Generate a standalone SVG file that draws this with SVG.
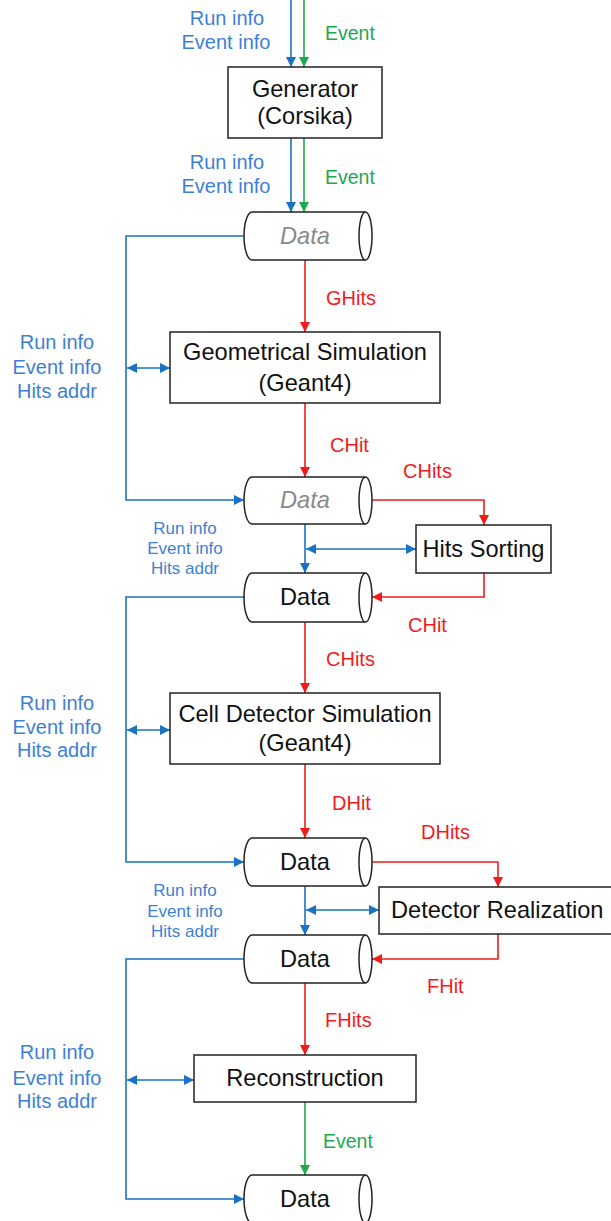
<svg xmlns="http://www.w3.org/2000/svg" width="611" height="1221" viewBox="0 0 611 1221">
<style>
text{font-family:"Liberation Sans",Arial,sans-serif}
.lbl{font-size:23.6px;fill:#111;text-anchor:middle}
.gray{font-style:italic;fill:#8a8a8a}
.bt{font-size:20px;fill:#3d7fd6;text-anchor:middle}
.bs{font-size:17px;fill:#3d7fd6;text-anchor:middle}
.rt{font-size:20px;fill:#f21b1b}
.gt{font-size:19.5px;fill:#1daa4f}
.box{fill:#fff;stroke:#222;stroke-width:1.5}
.cyl{fill:#fff;stroke:#222;stroke-width:1.5}
.b{stroke:#1a72c4;stroke-width:1.6;fill:none}
.r{stroke:#f21b1b;stroke-width:1.6;fill:none}
.g{stroke:#1daa4f;stroke-width:1.6;fill:none}
</style>
<defs>
<marker id="ab" viewBox="0 0 10 10" refX="10" refY="5" markerWidth="11" markerHeight="10" markerUnits="userSpaceOnUse" orient="auto-start-reverse"><path d="M0,0 L10,5 L0,10 z" fill="#1a72c4"/></marker>
<marker id="ar" viewBox="0 0 10 10" refX="10" refY="5" markerWidth="11" markerHeight="10" markerUnits="userSpaceOnUse" orient="auto"><path d="M0,0 L10,5 L0,10 z" fill="#f21b1b"/></marker>
<marker id="ag" viewBox="0 0 10 10" refX="10" refY="5" markerWidth="11" markerHeight="10" markerUnits="userSpaceOnUse" orient="auto"><path d="M0,0 L10,5 L0,10 z" fill="#1daa4f"/></marker>
</defs>

<g id="connectors">
<path class="b" d="M291,0 V67" marker-end="url(#ab)"/>
<path class="g" d="M304,0 V67" marker-end="url(#ag)"/>
<path class="b" d="M291,138 V212" marker-end="url(#ab)"/>
<path class="g" d="M304,138 V212" marker-end="url(#ag)"/>
<path class="r" d="M305,260 V332" marker-end="url(#ar)"/>
<path class="r" d="M305,403 V477" marker-end="url(#ar)"/>
<path class="b" d="M244,236 H126 V500 H244" marker-end="url(#ab)"/>
<path class="b" d="M127,368 H170" marker-start="url(#ab)" marker-end="url(#ab)"/>
<path class="r" d="M372,500 H484 V525" marker-end="url(#ar)"/>
<path class="b" d="M305,524 V573" marker-end="url(#ab)"/>
<path class="b" d="M306,549 H416" marker-start="url(#ab)" marker-end="url(#ab)"/>
<path class="r" d="M484,573 V597 H372" marker-end="url(#ar)"/>
<path class="b" d="M244,597 H126 V862 H244" marker-end="url(#ab)"/>
<path class="b" d="M127,730 H170" marker-start="url(#ab)" marker-end="url(#ab)"/>
<path class="r" d="M305,622 V693" marker-end="url(#ar)"/>
<path class="r" d="M305,764 V838" marker-end="url(#ar)"/>
<path class="r" d="M372,862 H498 V887" marker-end="url(#ar)"/>
<path class="b" d="M305,886 V935" marker-end="url(#ab)"/>
<path class="b" d="M306,910 H379" marker-start="url(#ab)" marker-end="url(#ab)"/>
<path class="r" d="M498,934 V959 H372" marker-end="url(#ar)"/>
<path class="b" d="M244,959 H126 V1199 H244" marker-end="url(#ab)"/>
<path class="r" d="M305,983 V1055" marker-end="url(#ar)"/>
<path class="b" d="M127,1080 H194" marker-start="url(#ab)" marker-end="url(#ab)"/>
<path class="g" d="M305,1102 V1175" marker-end="url(#ag)"/>
</g>

<g id="labels">
<text class="bt" x="227" y="25">Run info</text>
<text class="bt" x="226" y="49">Event info</text>
<text class="gt" x="325" y="40">Event</text>
<text class="bt" x="227" y="169">Run info</text>
<text class="bt" x="226" y="193">Event info</text>
<text class="gt" x="325" y="184">Event</text>
<text class="rt" x="326" y="305">GHits</text>
<text class="bt" x="57" y="349">Run info</text>
<text class="bt" x="57" y="374">Event info</text>
<text class="bt" x="57" y="398">Hits addr</text>
<text class="rt" x="330" y="452">CHit</text>
<text class="rt" x="403" y="478">CHits</text>
<text class="bs" x="185" y="534">Run info</text>
<text class="bs" x="185" y="554">Event info</text>
<text class="bs" x="185" y="574">Hits addr</text>
<text class="rt" x="408" y="632">CHit</text>
<text class="rt" x="326" y="666">CHits</text>
<text class="bt" x="57" y="710">Run info</text>
<text class="bt" x="57" y="734">Event info</text>
<text class="bt" x="57" y="757">Hits addr</text>
<text class="rt" x="332" y="810">DHit</text>
<text class="rt" x="421" y="839">DHits</text>
<text class="bs" x="185" y="896">Run info</text>
<text class="bs" x="185" y="917">Event info</text>
<text class="bs" x="185" y="937">Hits addr</text>
<text class="rt" x="427" y="993">FHit</text>
<text class="rt" x="325" y="1027">FHits</text>
<text class="bt" x="57" y="1059">Run info</text>
<text class="bt" x="57" y="1085">Event info</text>
<text class="bt" x="57" y="1108">Hits addr</text>
<text class="gt" x="323" y="1148">Event</text>
</g>

<g id="generator">
<rect class="box" x="228" y="67" width="154" height="71"/>
<text class="lbl" x="305" y="97">Generator</text>
<text class="lbl" x="305" y="124">(Corsika)</text>
</g>

<g id="data1">
<path class="cyl" d="M365,212 H252 A8,24 0 0 0 252,260 H365"/>
<ellipse class="cyl" cx="365.5" cy="236" rx="6.5" ry="24"/>
<text class="lbl gray" x="305" y="244">Data</text>
</g>

<g id="geosim">
<rect class="box" x="170" y="332" width="270" height="71"/>
<text class="lbl" x="305" y="360">Geometrical Simulation</text>
<text class="lbl" x="305" y="391">(Geant4)</text>
</g>

<g id="data2">
<path class="cyl" d="M365,477 H252 A8,23.5 0 0 0 252,524 H365"/>
<ellipse class="cyl" cx="365.5" cy="500.5" rx="6.5" ry="23.5"/>
<text class="lbl gray" x="305" y="508">Data</text>
</g>

<g id="hitssorting">
<rect class="box" x="416" y="525" width="135" height="48"/>
<text class="lbl" x="483.5" y="557">Hits Sorting</text>
</g>

<g id="data3">
<path class="cyl" d="M365,573 H252 A8,24.5 0 0 0 252,622 H365"/>
<ellipse class="cyl" cx="365.5" cy="597.5" rx="6.5" ry="24.5"/>
<text class="lbl" x="305" y="605">Data</text>
</g>

<g id="cellsim">
<rect class="box" x="170" y="693" width="270" height="71"/>
<text class="lbl" x="305" y="722">Cell Detector Simulation</text>
<text class="lbl" x="305" y="751">(Geant4)</text>
</g>

<g id="data4">
<path class="cyl" d="M365,838 H252 A8,24 0 0 0 252,886 H365"/>
<ellipse class="cyl" cx="365.5" cy="862" rx="6.5" ry="24"/>
<text class="lbl" x="305" y="870">Data</text>
</g>

<g id="detreal">
<rect class="box" x="379" y="887" width="234" height="47"/>
<text class="lbl" x="391" y="918" style="text-anchor:start">Detector Realization</text>
</g>

<g id="data5">
<path class="cyl" d="M365,935 H252 A8,24 0 0 0 252,983 H365"/>
<ellipse class="cyl" cx="365.5" cy="959" rx="6.5" ry="24"/>
<text class="lbl" x="305" y="967">Data</text>
</g>

<g id="reco">
<rect class="box" x="194" y="1055" width="222" height="47"/>
<text class="lbl" x="305" y="1086">Reconstruction</text>
</g>

<g id="data6">
<path class="cyl" d="M365,1175 H252 A8,24 0 0 0 252,1223 H365"/>
<ellipse class="cyl" cx="365.5" cy="1199" rx="6.5" ry="24"/>
<text class="lbl" x="305" y="1207">Data</text>
</g>
</svg>
